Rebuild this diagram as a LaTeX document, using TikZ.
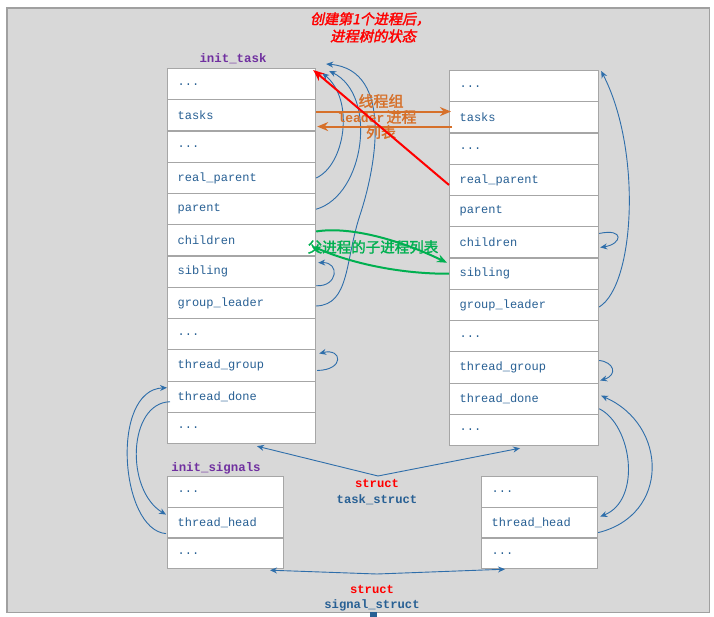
\documentclass[tikz,border=0pt]{standalone}
\usepackage{fontspec}
\setmainfont{Liberation Serif}
\setmonofont{Liberation Mono}
\newfontfamily\cjkti[FakeSlant=0.2,FakeBold=2]{Noto Sans CJK SC}
\newfontfamily\cjkb[FakeBold=1.6]{Noto Sans CJK SC}
\usetikzlibrary{arrows.meta,calc}
\definecolor{bggray}{RGB}{216,216,216}
\definecolor{bgedge}{RGB}{160,160,160}
\definecolor{boxgray}{RGB}{166,166,166}
\definecolor{txtblue}{RGB}{40,96,148}
\definecolor{lineblue}{RGB}{46,110,170}
\definecolor{purp}{RGB}{112,48,160}
\definecolor{orng}{RGB}{214,112,42}
\definecolor{grn}{RGB}{0,176,80}
\tikzset{
  cell/.style={draw=boxgray, line width=1.2pt, fill=white, anchor=north west,
    inner xsep=10pt, inner ysep=0pt, align=left,
    font=\ttfamily\fontsize{12}{14}\selectfont, text=txtblue},
  lcell/.style={cell, text width=128pt, minimum height=31.25pt},
  rcell/.style={cell, text width=129pt, minimum height=31.25pt},
  scell/.style={cell, text width=96pt, minimum height=30.67pt},
  bl/.style={draw=lineblue, line width=0.9pt, -{Stealth[length=7pt,width=6pt]}},
  orarrow/.style={draw=orng, line width=2pt, -{Stealth[length=11pt,width=9pt]}},
  grline/.style={draw=grn, line width=2pt},
  redarrow/.style={draw=red, line width=2pt, -{Stealth[length=11pt,width=9pt]}},
  title/.style={font=\ttfamily\bfseries\fontsize{12.4}{14}\selectfont, text=purp, inner sep=0pt},
  lbl/.style={inner sep=0pt, align=center}
}
\begin{document}
\begin{tikzpicture}[x=1pt,y=-1pt]
\useasboundingbox (0,0) rectangle (714,617);
\fill[white] (0,0) rectangle (714,617);
\draw[fill=bggray, draw=bgedge, line width=1.5pt] (7,8) rectangle (709.5,612.5);

% left task_struct
\node[lcell] (L1) at (167,68) {...};
\node[lcell] (L2) at (167,99.25) {tasks};
\node[lcell] (L3) at (167,130.5) {...};
\node[lcell] (L4) at (167,161.75) {real\_parent};
\node[lcell] (L5) at (167,193) {parent};
\node[lcell] (L6) at (167,224.25) {children};
\node[lcell] (L7) at (167,255.5) {sibling};
\node[lcell] (L8) at (167,286.75) {group\_leader};
\node[lcell] (L9) at (167,318) {...};
\node[lcell] (L10) at (167,349.25) {thread\_group};
\node[lcell] (L11) at (167,380.5) {thread\_done};
\node[lcell] (L12) at (167,411.75) {...};

% right task_struct
\node[rcell] (R1) at (449,70) {...};
\node[rcell] (R2) at (449,101.25) {tasks};
\node[rcell] (R3) at (449,132.5) {...};
\node[rcell] (R4) at (449,163.75) {real\_parent};
\node[rcell] (R5) at (449,195) {parent};
\node[rcell] (R6) at (449,226.25) {children};
\node[rcell] (R7) at (449,257.5) {sibling};
\node[rcell] (R8) at (449,288.75) {group\_leader};
\node[rcell] (R9) at (449,320) {...};
\node[rcell] (R10) at (449,351.25) {thread\_group};
\node[rcell] (R11) at (449,382.5) {thread\_done};
\node[rcell] (R12) at (449,413.75) {...};

% signal structs
\node[scell] (SL1) at (167,476) {...};
\node[scell] (SL2) at (167,506.67) {thread\_head};
\node[scell] (SL3) at (167,537.33) {...};
\node[scell] (SR1) at (481,476) {...};
\node[scell] (SR2) at (481,506.67) {thread\_head};
\node[scell] (SR3) at (481,537.33) {...};

% titles
\node[title] (tinit) at (233,59) {init\_task};
\node[title] (sinit) at (216,468) {init\_signals};
\node[lbl, anchor=west, text=red, font=\cjkti\fontsize{14}{16}\selectfont] (cap1) at (310,19) {创建第1个进程后，};
\node[lbl, anchor=west, text=red, font=\cjkti\fontsize{14.3}{16}\selectfont] (cap2) at (330,36) {进程树的状态};

% blue curves left box
\draw[bl] (L4.east) .. controls (345,165) and (355,100) .. ($(L1.north east)+(6,5)$);
\draw[bl] (L5.east) .. controls (365,195) and (378,95) .. ($(L1.north east)+(13,3)$);
\draw[bl] ($(L8.east)+(0,3)$) .. controls (350,305) and (345,260) .. (360,215)
   .. controls (375,170) and (395,70) .. ($(L1.north east)+(10,-4)$);
\draw[bl] ($(L7.east)+(0,14)$) .. controls (338,287) and (340,262) .. ($(L7.east)+(2,-9)$);
\draw[bl] ($(L10.east)+(1,5)$) .. controls (345,370) and (342,348) .. ($(L10.east)+(3,-12)$);
\draw[bl] ($(L11.west)+(3,5)$) .. controls (128,403) and (125,490) .. ($(SL2.west)+(-1,-8)$);
\draw[bl] ($(SL2.west)+(-1,11)$) .. controls (120,530) and (110,390) .. ($(L11.west)+(0,-9)$);

% blue curves right box
\draw[bl] ($(R8.east)+(0,2)$) .. controls (635,285) and (642,150) .. ($(R1.north east)+(2,1)$);
\draw[bl] ($(R6.east)+(0,-9)$) .. controls (625,228) and (622,244) .. ($(R6.east)+(1,5)$);
\draw[bl] ($(R10.east)+(0,-7)$) .. controls (614,362) and (618,375) .. ($(R10.east)+(1,13)$);
\draw[bl] ($(R11.east)+(0,10)$) .. controls (632,425) and (642,500) .. ($(SR2.east)+(2,-6)$);
\draw[bl] ($(SR2.east)+(0,10)$) .. controls (670,515) and (668,425) .. ($(R11.east)+(2,-3)$);

% struct labels
\coordinate (tj) at (378,476);
\coordinate (sj) at (377,574);
\draw[bl] (tj) -- ($(L12.south west)+(90,2)$);
\draw[bl] (tj) -- ($(R12.south west)+(71,2)$);
\draw[bl] (sj) -- ($(SL3.south west)+(103,1)$);
\draw[bl] (sj) -- ($(SR3.south west)+(24,0)$);
\node[lbl, font=\ttfamily\bfseries\fontsize{12.2}{16}\selectfont] (tlab) at (377,492)
  {\textcolor{red}{struct}\\\textcolor{txtblue}{task\_struct}};
\node[lbl, font=\ttfamily\bfseries\fontsize{12.2}{15}\selectfont] (slab) at (372,598)
  {\textcolor{red}{struct}\\\textcolor{txtblue}{signal\_struct}};

% orange tasks arrows
\draw[orarrow] ($(L2.east)+(0,-3.9)$) -- ($(R2.west)+(2,-5.9)$);
\draw[orarrow] ($(R2.west)+(3,9.1)$) -- ($(L2.east)+(1,11.1)$);
\node[lbl, text=orng, font=\cjkb\fontsize{15}{16}\selectfont] (o1) at (381,101) {线程组};
\node[lbl, text=orng, font=\fontsize{13}{16}\selectfont] (o2) at (377,117)
  {{\ttfamily\bfseries leader}\,{\cjkb\fontsize{15}{16}\selectfont 进程}};
\node[lbl, text=orng, font=\cjkb\fontsize{15}{16}\selectfont] (o3) at (381,132) {列表};

% red arrow
\draw[redarrow] ($(R4.west)+(0,5)$) -- ($(L1.north east)+(-3,2)$);

% green
\draw[grline, -{Stealth[length=10pt,width=8pt]}] ($(L6.east)+(0,-9)$) .. controls (350,226) and (400,240) .. ($(R7.west)+(-2,-11)$);
\draw[grline, -{Stealth[length=8pt,width=7pt]}] (R7.west) .. controls (400,274) and (350,263) .. ($(L6.east)+(-3,6)$);
\node[lbl, text=grn, font=\cjkb\fontsize{14.5}{16}\selectfont] (glab) at (373,247) {父进程的子进程列表};

\fill[txtblue] (370,612) rectangle (377,617);
\end{tikzpicture}
\end{document}
